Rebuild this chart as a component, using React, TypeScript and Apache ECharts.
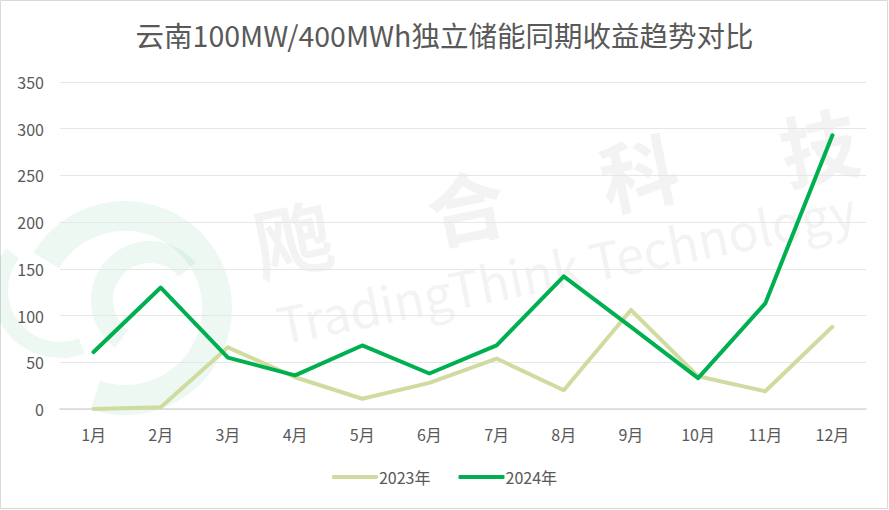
import React, { useEffect, useRef } from "react";
import * as echarts from "echarts";

const months = ["1月", "2月", "3月", "4月", "5月", "6月", "7月", "8月", "9月", "10月", "11月", "12月"];
const series2023 = [0, 2, 66, 34, 11, 28, 54, 20, 106, 35, 19, 88];
const series2024 = [61, 130, 55, 36, 68, 38, 68, 142, 88, 33, 113, 293];
const yTicks = { min: 0, max: 350, interval: 50 };
const titleText = "云南100MW/400MWh独立储能同期收益趋势对比";

const FONT = "'Noto Sans CJK SC', 'Noto Sans', sans-serif";

export default function App() {
  const ref = useRef<HTMLDivElement>(null);
  useEffect(() => {
    if (!ref.current) return;
    const chart = echarts.init(ref.current, undefined, { renderer: "svg" });
    const wmColor = "rgba(225,225,225,0.4)";
    const logoColor = "rgba(0,160,80,0.07)";
    chart.setOption({
      animation: false,
      backgroundColor: "#ffffff",
      title: {
        text: titleText,
        left: "center",
        top: 15,
        textStyle: { fontFamily: FONT, fontSize: 28.5, fontWeight: "normal", color: "#595959" },
      },
      graphic: [
        { type: "rect", shape: { x: 0.5, y: 0.5, width: 887, height: 508 }, style: { fill: "none", stroke: "#d9d9d9", lineWidth: 1 }, z: 0 },
        { type: "arc", shape: { cx: 125, cy: 308, r: 92, startAngle: -2.6, endAngle: 1.9 }, style: { fill: "none", stroke: logoColor, lineWidth: 30 }, z: 0 },
        { type: "arc", shape: { cx: 150, cy: 300, r: 48, startAngle: 2.2, endAngle: 5.6 }, style: { fill: "none", stroke: logoColor, lineWidth: 22 }, z: 0 },
        { type: "arc", shape: { cx: 60, cy: 290, r: 60, startAngle: 1.2, endAngle: 3.8 }, style: { fill: "none", stroke: logoColor, lineWidth: 16 }, z: 0 },
        {
          type: "text", x: 262, y: 282, rotation: 0.2, z: 0,
          style: { text: "飑", font: `bold 78px ${FONT}`, fill: wmColor, textVerticalAlign: "bottom" },
        },
        {
          type: "text", x: 435, y: 250, rotation: 0.2, z: 0,
          style: { text: "合", font: `bold 78px ${FONT}`, fill: wmColor, textVerticalAlign: "bottom" },
        },
        {
          type: "text", x: 608, y: 216, rotation: 0.2, z: 0,
          style: { text: "科", font: `bold 78px ${FONT}`, fill: wmColor, textVerticalAlign: "bottom" },
        },
        {
          type: "text", x: 788, y: 190, rotation: 0.2, z: 0,
          style: { text: "技", font: `bold 78px ${FONT}`, fill: wmColor, textVerticalAlign: "bottom" },
        },
        {
          type: "text", x: 282, y: 348, rotation: 0.2, z: 0,
          style: { text: "TradingThink Technology", font: `50px ${FONT}`, fill: wmColor, textVerticalAlign: "bottom" },
        },
      ],
      legend: {
        bottom: 20,
        left: "center",
        itemWidth: 46,
        itemHeight: 4,
        itemGap: 28,
        icon: "roundRect",
        textStyle: { fontFamily: FONT, fontSize: 16, color: "#595959", padding: [0, 0, 0, -4] },
        data: ["2023年", "2024年"],
      },
      grid: { left: 60, right: 23, top: 82, bottom: 101, containLabel: false },
      xAxis: {
        type: "category",
        data: months,
        boundaryGap: true,
        axisLine: { lineStyle: { color: "#d9d9d9", width: 1.5 } },
        axisTick: { show: false },
        axisLabel: { fontFamily: FONT, fontSize: 16, color: "#595959", margin: 17 },
      },
      yAxis: {
        type: "value",
        min: yTicks.min,
        max: yTicks.max,
        interval: yTicks.interval,
        axisLine: { show: false },
        axisTick: { show: false },
        splitLine: { lineStyle: { color: "#e6e6e6", width: 1 } },
        axisLabel: { fontFamily: FONT, fontSize: 16, color: "#595959", margin: 16 },
      },
      series: [
        {
          name: "2023年",
          type: "line",
          data: series2023,
          symbol: "none",
          lineStyle: { color: "#d0dc9f", width: 4, cap: "round", join: "round" },
          itemStyle: { color: "#d0dc9f" },
          z: 3,
        },
        {
          name: "2024年",
          type: "line",
          data: series2024,
          symbol: "none",
          lineStyle: { color: "#00b050", width: 4, cap: "round", join: "round" },
          itemStyle: { color: "#00b050" },
          z: 4,
        },
      ],
    });
    return () => chart.dispose();
  }, []);
  return (
    <div
      ref={ref}
      style={{ position: "fixed", left: 0, top: 0, width: 889, height: 510 }}
    />
  );
}
